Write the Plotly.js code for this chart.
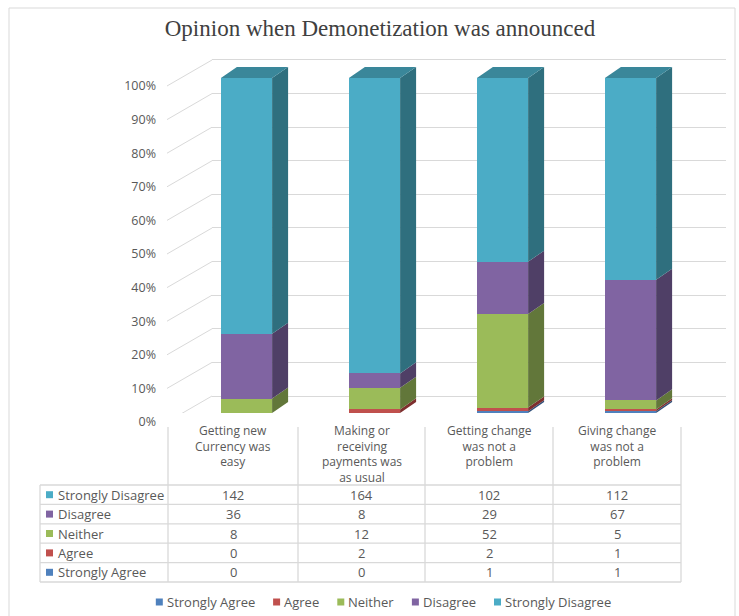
<!DOCTYPE html>
<html>
<head>
<meta charset="utf-8">
<script src="https://cdn.plot.ly/plotly-3.0.1.min.js"></script>
<style>
html,body{margin:0;padding:0;background:#fff;}
#chart{width:739px;height:616px;}
</style>
</head>
<body>
<div id="chart"></div>
<script>
// ---- data ----
const categories = ['Getting new Currency was easy', 'Making or receiving payments was as usual', 'Getting change was not a problem', 'Giving change was not a problem'];
const headerLabels = ['Getting new<br>Currency was<br>easy', 'Making or<br>receiving<br>payments was<br>as usual', 'Getting change<br>was not a<br>problem', 'Giving change<br>was not a<br>problem'];
const seriesNames = ['Strongly Agree', 'Agree', 'Neither', 'Disagree', 'Strongly Disagree'];
const stronglyAgree = [0, 0, 1, 1];
const agree = [0, 2, 2, 1];
const neither = [8, 12, 52, 5];
const disagree = [36, 8, 29, 67];
const stronglyDisagree = [142, 164, 102, 112];
const yTickVals = [0, 10, 20, 30, 40, 50, 60, 70, 80, 90, 100];
const yTickText = ['0%', '10%', '20%', '30%', '40%', '50%', '60%', '70%', '80%', '90%', '100%'];

// ---- styles ----
const W = 739, H = 616;
const px = x => x / W;          // pixel -> paper x
const py = y => 1 - y / H;      // pixel -> paper y
const frontColors = ['#4F81BD', '#C0504D', '#9BBB59', '#8064A2', '#4BACC6'];
const sideColors = ['#30507A', '#7E2F2E', '#62773A', '#4F3F66', '#2F6F7E'];
const topColor = '#3A879A';
const textColor = '#595959';
const gridColor = '#d9d9d9';
const FONT = '"Open Sans", Lato, sans-serif';
const FSIZE = 13;

const series = [stronglyAgree, agree, neither, disagree, stronglyDisagree];
const xPos = categories.map((c, i) => i);
const totals = xPos.map(i => series.reduce((s, arr) => s + arr[i], 0));

const barW = 0.4;     // in x units
const dx = 0.125;     // depth offset (x units)
const dy = 3.3;       // depth offset (y units, percent)

const traces = [];
// front faces (stacked, normalized to percent)
series.forEach((vals, s) => {
  traces.push({
    type: 'bar', x: xPos, y: vals, name: seriesNames[s],
    width: barW, marker: {color: frontColors[s], line: {width: 0}},
    hoverinfo: 'skip', showlegend: false
  });
});
// side faces
series.forEach((vals, s) => {
  const xs = [], ys = [];
  xPos.forEach(i => {
    let below = 0;
    for (let k = 0; k < s; k++) below += series[k][i] / totals[i] * 100;
    const top = below + vals[i] / totals[i] * 100;
    if (vals[i] === 0) return;
    const xr = i + barW / 2;
    xs.push(xr, xr + dx, xr + dx, xr, xr, null);
    ys.push(below, below + dy, top + dy, top, below, null);
  });
  traces.push({
    type: 'scatter', mode: 'lines', x: xs, y: ys, fill: 'toself',
    fillcolor: sideColors[s], line: {width: 0, color: sideColors[s]},
    showlegend: false, hoverinfo: 'skip'
  });
});
// top faces
(function () {
  const xs = [], ys = [];
  xPos.forEach(i => {
    const xl = i - barW / 2, xr = i + barW / 2;
    xs.push(xl, xl + dx, xr + dx, xr, xl, null);
    ys.push(100, 100 + dy, 100 + dy, 100, 100, null);
  });
  traces.push({
    type: 'scatter', mode: 'lines', x: xs, y: ys, fill: 'toself',
    fillcolor: topColor, line: {width: 0, color: topColor},
    showlegend: false, hoverinfo: 'skip'
  });
})();
// dummy trace on yaxis2 so its grid/labels render
traces.push({type: 'scatter', x: [0], y: [0], yaxis: 'y2', mode: 'markers',
  marker: {opacity: 0}, showlegend: false, hoverinfo: 'skip'});

const shapes = [];
const annotations = [];

// side-wall diagonal lines
yTickVals.forEach(v => shapes.push({
  type: 'line', xref: 'paper', yref: 'y2', ysizemode: 'pixel', yanchor: v,
  x0: px(167), x1: px(212), y0: -26, y1: 0,
  line: {color: gridColor, width: 1}, layer: 'below'
}));
// outer chart border
shapes.push({
  type: 'rect', xref: 'paper', yref: 'paper',
  x0: px(9), x1: px(735), y0: -0.01, y1: py(8),
  line: {color: gridColor, width: 1}, fillcolor: 'rgba(0,0,0,0)', layer: 'below'
});

// ---- data table (built from the arrays above) ----
const colEdges = [40, 168, 298, 425, 553, 681];
const headTop = 427, headBottom = 485, rowH = 19.4;
const order = [4, 3, 2, 1, 0];   // table rows: Strongly Disagree first
const tableBottom = headBottom + rowH * order.length;
const line = (x0, y0, x1, y1) => shapes.push({type: 'line', xref: 'paper', yref: 'paper',
  x0: px(x0), y0: py(y0), x1: px(x1), y1: py(y1), line: {color: gridColor, width: 1.3}});
for (let r = 0; r <= order.length; r++) line(colEdges[0], headBottom + r * rowH, colEdges[5], headBottom + r * rowH);
line(colEdges[0], headBottom, colEdges[0], tableBottom);
for (let c = 1; c < colEdges.length; c++) line(colEdges[c], headTop, colEdges[c], tableBottom);

const tfont = {family: FONT, size: FSIZE, color: textColor};
headerLabels.forEach((lab, i) => annotations.push({
  xref: 'paper', yref: 'paper', x: px((colEdges[i + 1] + colEdges[i + 2]) / 2), y: py(421),
  xanchor: 'center', yanchor: 'top', text: lab, showarrow: false, align: 'center', borderpad: 0,
  font: {family: FONT, size: 12, color: textColor}
}));
order.forEach((s, r) => {
  const yc = headBottom + rowH * (r + 0.5);
  shapes.push({type: 'rect', xref: 'paper', yref: 'paper',
    x0: px(46), x1: px(53), y0: py(yc + 3.5), y1: py(yc - 3.5),
    fillcolor: frontColors[s], line: {width: 0}});
  annotations.push({xref: 'paper', yref: 'paper', x: px(56), y: py(yc),
    xanchor: 'left', yanchor: 'middle', text: seriesNames[s], showarrow: false, font: tfont});
  xPos.forEach(i => annotations.push({
    xref: 'paper', yref: 'paper', x: px((colEdges[i + 1] + colEdges[i + 2]) / 2), y: py(yc),
    xanchor: 'center', yanchor: 'middle', text: String(series[s][i]), showarrow: false, font: tfont
  }));
});

// ---- legend (square keys + names, laid out by measured text width) ----
(function () {
  const ctx = document.createElement('canvas').getContext('2d');
  ctx.font = FSIZE + 'px "Open Sans"';
  const sq = 7, sqGap = 3, itemGap = 19, legY = 602;
  const widths = seriesNames.map(n => ctx.measureText(n).width);
  const total = widths.reduce((a, w) => a + sq + sqGap + w, 0) + itemGap * (seriesNames.length - 1);
  let x = 383 - total / 2;
  seriesNames.forEach((n, s) => {
    shapes.push({type: 'rect', xref: 'paper', yref: 'paper',
      x0: px(x), x1: px(x + sq), y0: py(legY + 3.5), y1: py(legY - 3.5),
      fillcolor: frontColors[s], line: {width: 0}});
    annotations.push({xref: 'paper', yref: 'paper', x: px(x + sq + sqGap), y: py(legY),
      xanchor: 'left', yanchor: 'middle', text: n, showarrow: false, font: tfont, borderpad: 0});
    x += sq + sqGap + widths[s] + itemGap;
  });
})();

const layout = {
  width: W, height: H,
  margin: {l: 0, r: 0, t: 0, b: 0, autoexpand: false},
  paper_bgcolor: 'white', plot_bgcolor: 'rgba(0,0,0,0)',
  barmode: 'stack', barnorm: 'percent',
  showlegend: false,
  font: {family: FONT, color: textColor, size: FSIZE},
  title: {
    text: 'Opinion when Demonetization was announced',
    x: px(380), xanchor: 'center', xref: 'paper',
    y: py(28), yanchor: 'middle', yref: 'paper',
    font: {family: '"Liberation Serif", "DejaVu Serif", serif', size: 23, color: '#404040'}
  },
  xaxis: {
    domain: [px(212), px(726)], range: [-0.2695, 3.746], fixedrange: true,
    showgrid: false, zeroline: false, showticklabels: false, showline: false, ticks: ''
  },
  yaxis: {
    domain: [py(413), py(44.5)], range: [0, 110], fixedrange: true,
    showgrid: false, zeroline: false, showticklabels: false, showline: false, ticks: ''
  },
  yaxis2: {
    overlaying: 'y', anchor: 'x', side: 'left',
    range: [-5.06, 104.61], fixedrange: true,
    tickvals: yTickVals, ticktext: yTickText,
    showgrid: true, gridcolor: gridColor, gridwidth: 1, zeroline: false,
    showline: false, ticks: '',
    ticklabelstandoff: 55, ticklabelshift: 26,
    tickfont: {family: FONT, size: 12.5, color: textColor}
  },
  shapes: shapes,
  annotations: annotations
};

Plotly.newPlot('chart', traces, layout, {displayModeBar: false, staticPlot: true});
</script>
</body>
</html>
